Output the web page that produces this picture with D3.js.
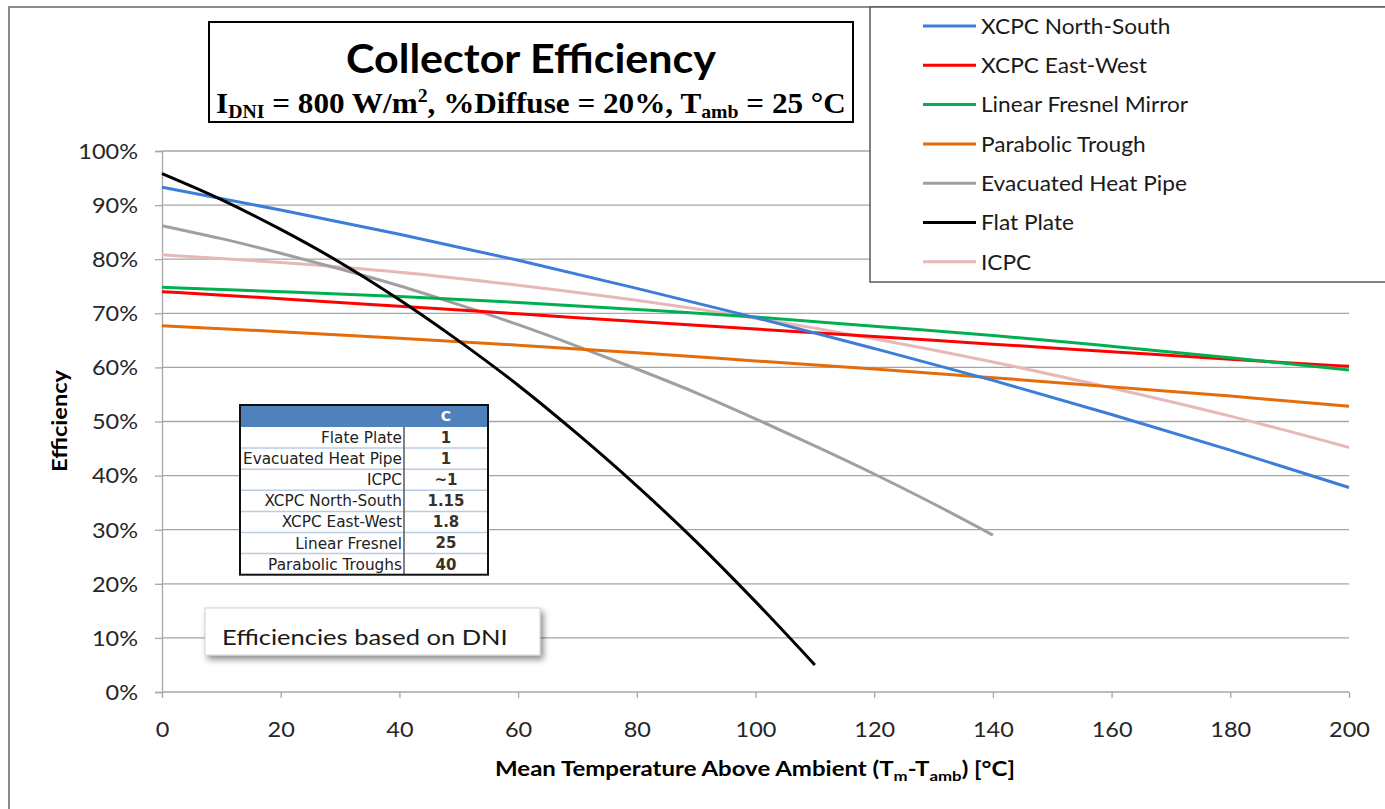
<!DOCTYPE html>
<html><head><meta charset="utf-8">
<script src="https://cdn.jsdelivr.net/npm/d3@7"></script>
<style>body{margin:0;background:#fff}svg{display:block}</style>
</head><body><svg id="c" width="1385" height="809"></svg>
<script>
// ---- data ----
const xTicks = [0,20,40,60,80,100,120,140,160,180,200];
const yTicks = [0,0.1,0.2,0.3,0.4,0.5,0.6,0.7,0.8,0.9,1.0];
const seriesNames = ["XCPC North-South","XCPC East-West","Linear Fresnel Mirror","Parabolic Trough","Evacuated Heat Pipe","Flat Plate","ICPC"];
const seriesColors = ["#3C7DD9","#FF0000","#00B050","#E46C0A","#A0A0A0","#000000","#E6B9B8"];
const x20 = [0,20,40,60,80,100,120,140,160,180,200];
const xcpcNS = [93.3,89.1,84.6,79.8,74.6,69.2,63.5,57.6,51.3,44.7,37.8];
const xcpcEW = [74.0,72.7,71.3,69.9,68.5,67.1,65.7,64.3,62.9,61.5,60.2];
const fresnel = [74.8,74.0,73.1,72.0,70.7,69.3,67.6,65.9,63.9,61.8,59.5];
const trough = [67.7,66.6,65.4,64.1,62.7,61.2,59.7,58.1,56.4,54.7,52.8];
const xEHP = [0,10,20,30,40,50,60,70,80,90,100,110,120,130,140];
const ehp = [86.2,83.8,81.1,78.2,75.1,71.6,67.9,63.9,59.7,55.3,50.5,45.5,40.3,34.8,29.0];
const xFP = [0,10,20,30,40,50,60,70,80,90,100,110];
const flatPlate = [95.8,91.0,85.5,79.4,72.5,64.9,56.7,47.7,38.1,27.8,16.7,5.0];
const icpc = [80.8,79.4,77.6,75.2,72.4,69.1,65.3,61.0,56.2,51.0,45.2];
const seriesX = [x20,x20,x20,x20,xEHP,xFP,x20];
const seriesY = [xcpcNS,xcpcEW,fresnel,trough,ehp,flatPlate,icpc];
const tableNames = ["Flate Plate","Evacuated Heat Pipe","ICPC","XCPC North-South","XCPC East-West","Linear Fresnel","Parabolic Troughs"];
const tableC = ["1","1","~1","1.15","1.8","25","40"];

// ---- drawing ----
const svg = d3.select("#c");
const F = "Lato, 'Open Sans', sans-serif";
const x = d3.scaleLinear().domain([0,200]).range([162,1349]);
const y = d3.scaleLinear().domain([0,1]).range([692,151]);

// horizontal stretch of text about its anchor point (reference font is wider than Lato)
function stretch(sel, s){
  sel.each(function(){
    const t=d3.select(this);
    const tx=+t.attr("x")||0, ty=+t.attr("y")||0;
    t.attr("transform",`translate(${tx},${ty}) scale(${s},1) translate(${-tx},${-ty})`);
  });
}

// outer frame
svg.append("rect").attr("x",9).attr("y",7).attr("width",1400).attr("height",830)
  .attr("fill","#fff").attr("stroke","#8C8C8C").attr("stroke-width",2);

// gridlines
svg.append("g").selectAll("line").data(yTicks.slice(1)).join("line")
  .attr("x1",x(0)).attr("x2",x(200)).attr("y1",d=>y(d)).attr("y2",d=>y(d))
  .attr("stroke","#A6A6A6").attr("stroke-width",1.3);

// axes
const yAxis = d3.axisLeft(y).tickValues(yTicks).tickSize(7).tickFormat(d3.format(".0%"));
const gy = svg.append("g").attr("transform",`translate(${x(0)},0)`).call(yAxis);
const xAxis = d3.axisBottom(x).tickValues(xTicks).tickSize(6).tickFormat(d3.format("d"));
const gx = svg.append("g").attr("transform",`translate(0,${y(0)})`).call(xAxis);
[gx,gy].forEach(g=>{
  g.select(".domain").attr("stroke","#A6A6A6").attr("stroke-width",1.3);
  g.selectAll(".tick line").attr("stroke","#A6A6A6").attr("stroke-width",1.3);
  g.selectAll("text").attr("font-family",F).attr("font-size",21).attr("fill","#262626");
});
gx.select(".domain").attr("d",`M${x(0)},0H${x(200)}`);
gy.selectAll("text").attr("x",-24).attr("y",0).attr("dy","0.35em");
gx.selectAll("text").attr("x",0).attr("y",30);
stretch(gy.selectAll("text"),1.12);
stretch(gx.selectAll("text"),1.12);

// axis titles
const xt = svg.append("text").attr("x",755).attr("y",776).attr("text-anchor","middle")
  .attr("font-family",F).attr("font-weight","bold").attr("font-size",20).attr("fill","#000")
  .html('Mean Temperature Above Ambient (T<tspan font-size="14" dy="5">m</tspan><tspan dy="-5">-T</tspan><tspan font-size="14" dy="5">amb</tspan><tspan dy="-5">) [°C]</tspan>');
stretch(xt,1.2);
svg.append("text").attr("transform","translate(67,421) rotate(-90) scale(1.18,1)").attr("text-anchor","middle")
  .attr("font-family",F).attr("font-weight","bold").attr("font-size",20).attr("fill","#000").text("Efficiency");

// lines
const line = d3.line().x(d=>x(d[0])).y(d=>y(d[1]/100)).curve(d3.curveMonotoneX);
const order = [6,4,3,1,2,0,5];
order.forEach(i=>{
  const pts = seriesX[i].map((v,k)=>[v,seriesY[i][k]]);
  svg.append("path").datum(pts).attr("d",line).attr("fill","none")
    .attr("stroke",seriesColors[i]).attr("stroke-width",3).attr("stroke-linejoin","round");
});

// title box
svg.append("rect").attr("x",209).attr("y",22).attr("width",644).attr("height",100)
  .attr("fill","#fff").attr("stroke","#000").attr("stroke-width",2);
const t1 = svg.append("text").attr("x",531).attr("y",73).attr("text-anchor","middle")
  .attr("font-family",F).attr("font-weight","bold").attr("font-size",41).attr("fill","#000").text("Collector Efficiency");
stretch(t1,1.05);
const t2 = svg.append("text").attr("x",531).attr("y",113).attr("text-anchor","middle")
  .attr("font-family","'Liberation Serif', 'Times New Roman', serif").attr("font-weight","bold").attr("font-size",30).attr("fill","#000")
  .html('I<tspan font-size="19" dy="5">DNI</tspan><tspan dy="-5"> = 800 W/m</tspan><tspan font-size="19" dy="-11">2</tspan><tspan dy="11">, %Diffuse = 20%, T</tspan><tspan font-size="19" dy="5">amb</tspan><tspan dy="-5"> = 25 °C</tspan>');
stretch(t2,1.04);

// legend
svg.append("rect").attr("x",870).attr("y",7).attr("width",530).attr("height",275)
  .attr("fill","#fff").attr("stroke","#595959").attr("stroke-width",1.5);
const lg = svg.append("g").selectAll("g").data(seriesNames).join("g")
  .attr("transform",(d,i)=>`translate(0,${26+i*39.3})`);
lg.append("line").attr("x1",923).attr("x2",976).attr("stroke",(d,i)=>seriesColors[i]).attr("stroke-width",3);
const lt = lg.append("text").attr("x",981).attr("y",0).attr("dy","0.35em").attr("font-family",F).attr("font-size",22).attr("fill","#1a1a1a").text(d=>d);
stretch(lt,1.03);

// table
const tx0=240, tx1=488, tdiv=404, ty0=405, thead=22, trow=21.1;
const TF = "'DejaVu Sans', sans-serif";
const tg = svg.append("g");
tg.append("rect").attr("x",tx0).attr("y",ty0).attr("width",tx1-tx0).attr("height",thead+trow*7).attr("fill","#fff");
tg.append("rect").attr("x",tx0).attr("y",ty0).attr("width",tx1-tx0).attr("height",thead).attr("fill","#4F81BD");
tg.append("text").attr("x",(tdiv+tx1)/2).attr("y",ty0+thead/2).attr("dy","0.35em").attr("text-anchor","middle")
  .attr("font-family",TF).attr("font-weight","bold").attr("font-size",14).attr("fill","#fff").text("C");
tg.selectAll("line.r").data(d3.range(1,7)).join("line").attr("class","r")
  .attr("x1",tx0).attr("x2",tx1).attr("y1",d=>ty0+thead+d*trow).attr("y2",d=>ty0+thead+d*trow)
  .attr("stroke","#B8CCE4").attr("stroke-width",1.5);
tg.append("line").attr("x1",tdiv).attr("x2",tdiv).attr("y1",ty0+thead).attr("y2",ty0+thead+7*trow).attr("stroke","#595959").attr("stroke-width",1.5);
tg.selectAll("text.n").data(tableNames).join("text").attr("class","n")
  .attr("x",tdiv-2).attr("y",(d,i)=>ty0+thead+trow*(i+0.5)).attr("dy","0.36em").attr("text-anchor","end")
  .attr("font-family",TF).attr("font-size",15.3).attr("fill","#222").text(d=>d);
tg.selectAll("text.v").data(tableC).join("text").attr("class","v")
  .attr("x",(tdiv+tx1)/2).attr("y",(d,i)=>ty0+thead+trow*(i+0.5)).attr("dy","0.36em").attr("text-anchor","middle")
  .attr("font-family",TF).attr("font-weight","bold").attr("font-size",15).attr("fill","#3a3024").text(d=>d);
tg.append("rect").attr("x",tx0).attr("y",ty0).attr("width",tx1-tx0).attr("height",thead+trow*7)
  .attr("fill","none").attr("stroke","#111").attr("stroke-width",2);

// note box with shadow
const defs = svg.append("defs");
const fl = defs.append("filter").attr("id","sh").attr("x","-10%").attr("y","-30%").attr("width","130%").attr("height","180%");
fl.append("feDropShadow").attr("dx",3).attr("dy",4).attr("stdDeviation",3).attr("flood-color","#000").attr("flood-opacity",0.45);
svg.append("rect").attr("x",205).attr("y",608).attr("width",335).attr("height",47)
  .attr("fill","#fff").attr("stroke","#D0D0D0").attr("stroke-width",1).attr("filter","url(#sh)");
const nt = svg.append("text").attr("x",222).attr("y",645).attr("font-family",F).attr("font-size",22).attr("fill","#1a1a1a").text("Efficiencies based on DNI");
stretch(nt,1.16);
</script></body></html>
